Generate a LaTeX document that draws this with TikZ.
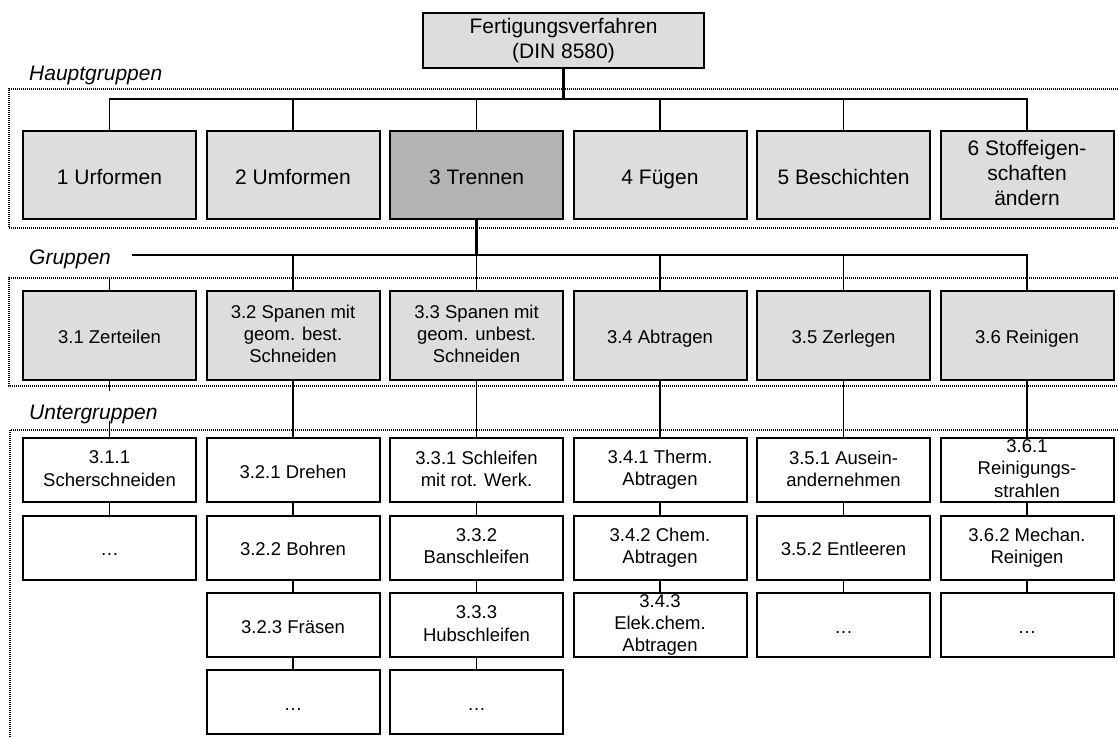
\documentclass[tikz,border=0pt]{standalone}
\usepackage{fontspec}
\setmainfont{Liberation Sans}
\definecolor{lightfill}{RGB}{221,221,221}
\definecolor{darkfill}{RGB}{179,179,179}
\newcommand{\mystrut}{\rule[-0.14\baselineskip]{0pt}{\baselineskip}}
\begin{document}
\begin{tikzpicture}[x=1pt,y=-1pt,
  bigfont/.style={font=\fontsize{21}{25}\selectfont},
  smallfont/.style={font=\fontsize{18.5}{22.3}\selectfont},
  basebox/.style={draw, line width=2pt, align=center, inner sep=0pt, minimum width=173pt,
    execute at begin node=\mystrut, execute at end node=\mystrut},
  hbox/.style={basebox, bigfont, fill=lightfill, minimum height=88pt},
  gbox/.style={basebox, smallfont, fill=lightfill, minimum height=89pt},
  ubox/.style={basebox, smallfont, fill=white, minimum height=64pt},
  topbox/.style={basebox, bigfont, fill=lightfill, minimum width=281pt, minimum height=55pt},
  lab/.style={font=\fontsize{21}{25}\selectfont\itshape, inner sep=0pt, anchor=base west},
  conn/.style={line width=1.2pt},
  stem/.style={line width=2.6pt},
  frame/.style={line width=1.1pt, dash pattern=on 1pt off 1pt}
]
\useasboundingbox (0,0) rectangle (1118,737);

% dotted frames
\draw[frame] (1118,89) -- (9,89) -- (9,228) -- (1118,228);
\draw[frame] (1118,278) -- (9,278) -- (9,386) -- (1118,386);
\draw[frame] (1118,430) -- (10,430) -- (10,740);

% labels
\node[lab] (lh) at (29,80) {Hauptgruppen};
\node[lab] (lg) at (29,264) {Gruppen};
\node[lab] (lu) at (29,419) {Untergruppen};

% top
\node[topbox] (top) at (563.5,40.5) {Fertigungsverfahren\\(DIN 8580)};

% Hauptgruppen
\node[hbox] (h1) at (109.5,175) {\smash{1 Urformen}};
\node[hbox] (h2) at (293,175) {\smash{2 Umformen}};
\node[hbox, fill=darkfill] (h3) at (476.5,175) {\smash{3 Trennen}};
\node[hbox] (h4) at (660,175) {\smash{4 Fügen}};
\node[hbox] (h5) at (843.5,175) {\smash{5 Beschichten}};
\node[hbox] (h6) at (1027,175) {6 Stoffeigen-\\schaften\\ändern};

% Gruppen
\node[gbox] (g1) at (109.5,335.5) {3.1 Zerteilen};
\node[gbox] (g2) at (293,335.5) {3.2 Spanen mit\\geom. best.\\Schneiden};
\node[gbox] (g3) at (476.5,335.5) {3.3 Spanen mit\\geom. unbest.\\Schneiden};
\node[gbox] (g4) at (660,335.5) {3.4 Abtragen};
\node[gbox] (g5) at (843.5,335.5) {3.5 Zerlegen};
\node[gbox] (g6) at (1027,335.5) {3.6 Reinigen};

% Untergruppen
\node[ubox] (u11) at (109.5,470) {3.1.1\\Scherschneiden};
\node[ubox] (u12) at (109.5,547.5) {…};

\node[ubox] (u21) at (293,470) {3.2.1 Drehen};
\node[ubox] (u22) at (293,547.5) {3.2.2 Bohren};
\node[ubox] (u23) at (293,625) {3.2.3 Fräsen};
\node[ubox] (u24) at (293,702) {…};

\node[ubox] (u31) at (476.5,470) {3.3.1 Schleifen\\mit rot. Werk.};
\node[ubox] (u32) at (476.5,547.5) {3.3.2\\Banschleifen};
\node[ubox] (u33) at (476.5,625) {3.3.3\\Hubschleifen};
\node[ubox] (u34) at (476.5,702) {…};

\node[ubox] (u41) at (660,470) {3.4.1 Therm.\\Abtragen};
\node[ubox] (u42) at (660,547.5) {3.4.2 Chem.\\Abtragen};
\node[ubox] (u43) at (660,625) {3.4.3\\Elek.chem.\\Abtragen};

\node[ubox] (u51) at (843.5,470) {3.5.1 Ausein-\\andernehmen};
\node[ubox] (u52) at (843.5,547.5) {3.5.2 Entleeren};
\node[ubox] (u53) at (843.5,625) {…};

\node[ubox] (u61) at (1027,470) {3.6.1\\Reinigungs-\\strahlen};
\node[ubox] (u62) at (1027,547.5) {3.6.2 Mechan.\\Reinigen};
\node[ubox] (u63) at (1027,625) {…};

% Hauptgruppen connectors
\coordinate (hbus) at (0,99);
\draw[conn] (h1.north) -- (h1.north |- hbus) -- (h6.north |- hbus) -- (h6.north);
\foreach \n in {h2,h3,h4,h5} \draw[conn] (\n.north) -- (\n.north |- hbus);
\draw[stem] (top.south) -- (top.south |- hbus);

% Gruppen connectors
\coordinate (gbus) at (132,255);
\draw[conn] (gbus) -- (g6.north |- gbus) -- (g6.north);
\foreach \n in {g2,g3,g4,g5} \draw[conn] (\n.north) -- (\n.north |- gbus);
\draw[stem] (h3.south) -- (h3.south |- gbus);
\coordinate (g1t) at (109.5,277);
\draw[conn] (g1t) -- (g1.north);

% Untergruppen connectors
\coordinate (g1b) at (109.5,391);
\draw[conn] (g1.south) -- (g1b);
\coordinate (u11t) at (109.5,421);
\draw[conn] (u11t) -- (u11.north);
\draw[conn] (g2.south) -- (u21.north);
\draw[conn] (g3.south) -- (u31.north);
\draw[conn] (g4.south) -- (u41.north);
\draw[conn] (g5.south) -- (u51.north);
\draw[conn] (g6.south) -- (u61.north);

\draw[conn] (u11) -- (u12);
\draw[conn] (u21) -- (u22); \draw[conn] (u22) -- (u23); \draw[conn] (u23) -- (u24);
\draw[conn] (u31) -- (u32); \draw[conn] (u32) -- (u33); \draw[conn] (u33) -- (u34);
\draw[conn] (u41) -- (u42); \draw[conn] (u42) -- (u43);
\draw[conn] (u51) -- (u52); \draw[conn] (u52) -- (u53);
\draw[conn] (u61) -- (u62); \draw[conn] (u62) -- (u63);
\end{tikzpicture}
\end{document}
